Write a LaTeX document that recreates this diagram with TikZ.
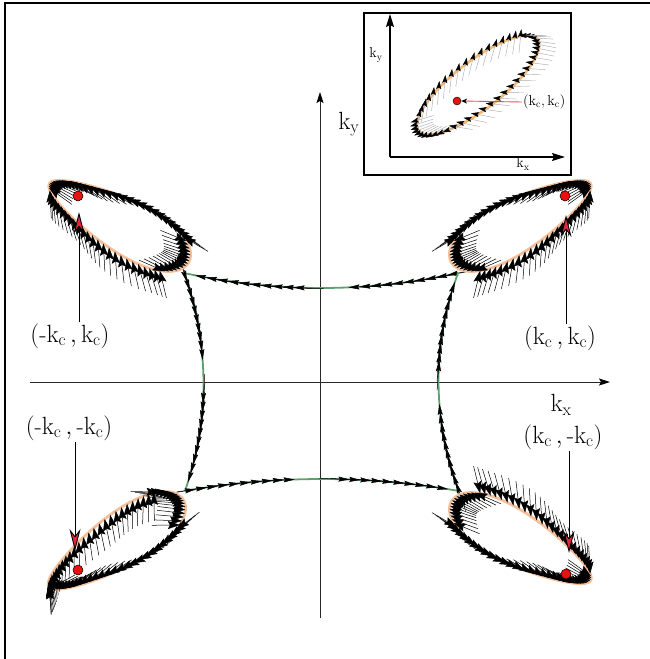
\documentclass[tikz,border=0pt]{standalone}
\usepackage{amsmath}
\usetikzlibrary{arrows.meta}
\definecolor{peach}{RGB}{244,192,155}
\definecolor{sqgreen}{RGB}{95,160,110}
\definecolor{dotred}{RGB}{235,15,15}
\definecolor{tipred}{RGB}{225,40,60}
\definecolor{inorange}{RGB}{246,184,118}
\definecolor{inred}{RGB}{242,72,92}
\definecolor{axisgray}{RGB}{40,40,40}
\tikzset{
  spinarrow/.style={line width=0.5pt, -{Stealth[length=12pt,width=8pt,inset=2pt]}},
  insetarrow/.style={line width=0.45pt, draw=gray!65, -{Stealth[length=8pt,width=5pt,inset=1.5pt,color=black]}},
  sqarrow/.style={line width=0.5pt, -{Stealth[length=11pt,width=5pt,inset=1.5pt]}},
  loopline/.style={draw=peach, line width=2.8pt},
  inloop/.style={draw=inorange, line width=2.6pt},
  sqline/.style={draw=sqgreen, line width=1.8pt},
  axisline/.style={draw=axisgray, line width=1pt, -{Stealth[length=11pt,width=7pt,inset=2pt,color=black]}},
  inaxis/.style={draw=black, line width=1.1pt, -{Stealth[length=13pt,width=8pt,inset=2pt]}},
  reddot/.style={circle, fill=dotred, draw=black, line width=0.5pt, inner sep=0pt, minimum size=10pt},
  inreddot/.style={circle, fill=dotred, draw=black, line width=0.4pt, inner sep=0pt, minimum size=8pt},
  marker/.style={draw=black, line width=0.9pt, -{Stealth[length=22pt,width=11pt,inset=7pt,fill=tipred]}},
  cornerlabel/.style={font=\fontsize{24}{28}\selectfont, inner sep=1pt},
  axislabel/.style={font=\fontsize{26}{30}\selectfont, inner sep=1pt},
  inlabel/.style={font=\fontsize{14}{16}\selectfont, inner sep=1pt},
}
\newcommand{\kc}{\mathrm{k}_{\mathrm{c}}}
% #1 A, #2 B0, #3 t1, #4 phiW, #5 t2, #6 phiU, #7 t3, #8 phiD, #9 arrow length
\newcommand{\spinloop}[9]{%
  \draw[loopline] plot[domain=0:360,samples=97] ({(#1)*cos(\x)},{(#2)*(1+0.3*cos(\x))*sin(\x)}) -- cycle;
  \foreach \ang in {2.5,7.5,...,357.5}{%
    \pgfmathsetmacro\spx{(#1)*cos(\ang)}%
    \pgfmathsetmacro\spy{(#2)*(1+0.3*cos(\ang))*sin(\ang)}%
    \pgfmathsetmacro\sph{ifthenelse(\ang<#3,#4,ifthenelse(\ang<#5,#6,ifthenelse(\ang<#7,#8,#4)))+7*sin(5*\ang)}%
    \draw[spinarrow] ({\spx-(#9)*cos(\sph)},{\spy-(#9)*sin(\sph)}) -- (\spx,\spy);
  }%
}
\newcommand{\TLloop}{%
  \begin{scope}[shift={(119,-223)}, rotate=-29.5]
    \spinloop{80}{26}{35}{5}{195}{180}{318}{129.5}{28}
  \end{scope}%
}
% side of the central loop: A=(#1,#2), B=(#3,#4), sag (#5,#6)
\newcommand{\sqside}[6]{%
  \draw[sqline] plot[domain=0:1,samples=25] ({(#1)+((#3)-(#1))*\x+(#5)*(1-(2*\x-1)*(2*\x-1))},{(#2)+((#4)-(#2))*\x+(#6)*(1-(2*\x-1)*(2*\x-1))});
  \foreach \s in {0.04,0.08,...,0.42,0.6,0.64,...,0.97}{%
    \pgfmathsetmacro\sqx{(#1)+((#3)-(#1))*\s+(#5)*(1-(2*\s-1)*(2*\s-1))}%
    \pgfmathsetmacro\sqy{(#2)+((#4)-(#2))*\s+(#6)*(1-(2*\s-1)*(2*\s-1))}%
    \pgfmathsetmacro\sqdx{(((#3)-(#1))-4*(#5)*(2*\s-1))/100}%
    \pgfmathsetmacro\sqdy{(((#4)-(#2))-4*(#6)*(2*\s-1))/100}%
    \pgfmathsetmacro\sqdn{sqrt(\sqdx*\sqdx+\sqdy*\sqdy)}%
    \draw[sqarrow] ({\sqx-30*\sqdx/\sqdn},{\sqy-30*\sqdy/\sqdn}) -- (\sqx,\sqy);
  }%
}
\begin{document}
\begin{tikzpicture}[x=1pt,y=1pt]
\useasboundingbox (0,0) rectangle (650,-659);
% frame
\draw[line width=2.2pt] (5,-659) -- (5,-3) -- (650,-3);

% main axes
\coordinate (xs) at (30,-382);
\coordinate (xe) at (610,-382);
\coordinate (ys) at (320,-618);
\coordinate (ye) at (320,-92);
\draw[axisline] (xs) -- (xe);
\draw[axisline] (ys) -- (ye);
\node[axislabel] (ky) at (349,-124) {$\mathrm{k_y}$};
\node[axislabel] (kx) at (561,-405) {$\mathrm{k_x}$};

% central loop
\sqside{458}{-273}{184}{-273}{0}{-15}
\sqside{184}{-273}{185}{-491}{19}{0}
\sqside{185}{-491}{459}{-491}{0}{12}
\sqside{459}{-491}{458}{-273}{-20}{0}

% four spin loops
\TLloop
\begin{scope}[xshift=640pt, xscale=-1]\TLloop\end{scope}
\begin{scope}[shift={(640,-764)}, rotate=180]\TLloop\end{scope}
\begin{scope}[shift={(116,-543)}, rotate=33]
  \spinloop{80}{26}{40}{-33}{185}{62}{320}{180}{28}
\end{scope}

% red points and markers
\node[reddot] (dtl) at (78,-196) {};
\node[reddot] (dtr) at (565,-196) {};
\node[reddot] (dbl) at (78,-570) {};
\node[reddot] (dbr) at (566,-574) {};
\coordinate (mtl) at (79,-212);
\coordinate (mtr) at (566,-215);
\coordinate (mbl) at (75,-551);
\coordinate (mbr) at (569,-553);
\node[cornerlabel] (ltl) at (70,-336) {$(\text{-}\kc\,,\kc)$};
\node[cornerlabel] (ltr) at (560,-338) {$(\kc\,,\kc)$};
\node[cornerlabel] (lbl) at (69,-428) {$(\text{-}\kc\,,\text{-}\kc)$};
\node[cornerlabel] (lbr) at (563,-437) {$(\kc\,,\text{-}\kc)$};
\draw[marker] (mtl |- ltl.north) -- (mtl);
\draw[marker] (mtr |- ltr.north) -- (mtr);
\draw[marker] (mbl |- lbl.south) -- (mbl);
\draw[marker] (mbr |- lbr.south) -- (mbr);

% inset
\draw[line width=2.2pt] (364,-13) rectangle (571,-175);
\coordinate (io) at (390,-157);
\coordinate (iy) at (390,-14);
\coordinate (ix) at (565,-157);
\draw[inaxis] (io) -- (iy);
\draw[inaxis] (io) -- (ix);
\node[inlabel] (iky) at (376,-55) {$\mathrm{k_y}$};
\node[inlabel] (ikx) at (523,-164) {$\mathrm{k_x}$};
\begin{scope}[shift={(478,-85)}, rotate=37.6]
  \draw[inloop] plot[domain=0:360,samples=97] ({75*cos(\x)},{24*sin(\x)}) -- cycle;
  \foreach \ang in {4,11,...,354}{%
    \pgfmathsetmacro\spx{75*cos(\ang)}%
    \pgfmathsetmacro\spy{24*sin(\ang)}%
    \pgfmathsetmacro\sph{ifthenelse(\ang<30,137,ifthenelse(\ang<155,42,ifthenelse(\ang<235,165,137)))+6*sin(4*\ang)}%
    \draw[insetarrow] ({\spx-17*cos(\sph)},{\spy-17*sin(\sph)}) -- ({\spx+7*cos(\sph)},{\spy+7*sin(\sph)});
  }
\end{scope}
\node[inreddot] (idot) at (457,-101) {};
\node[inlabel, anchor=west] (ilab) at (522,-102) {$(\kc,\kc)$};
\draw[inred, line width=0.9pt, -{Stealth[length=6pt,width=5pt,color=black]}] (ilab.west) -- (idot.east);
\end{tikzpicture}
\end{document}
